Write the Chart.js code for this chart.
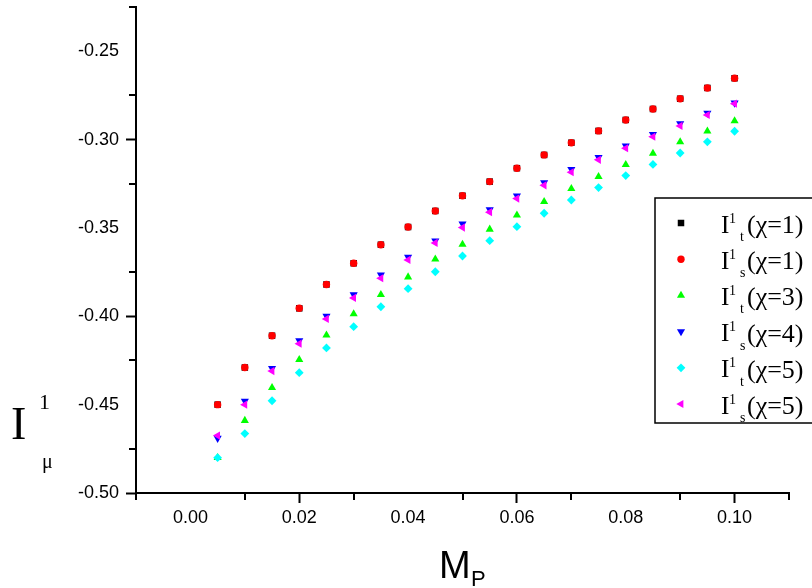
<!DOCTYPE html>
<html>
<head>
<meta charset="utf-8">
<style>
  body { margin: 0; background: #fff; }
  #chart-box { width: 812px; height: 588px; }
</style>
</head>
<body>
<div id="chart-box"><canvas id="myChart" width="812" height="588"></canvas></div>

<script src="https://cdn.jsdelivr.net/npm/chart.js"></script>
<script>
  // M_P values (x) shared by every series
  const mpValues = [0.005, 0.010, 0.015, 0.020, 0.025, 0.030, 0.035, 0.040, 0.045, 0.050,
                    0.055, 0.060, 0.065, 0.070, 0.075, 0.080, 0.085, 0.090, 0.095, 0.100];

  const itChi1 = [-0.450, -0.429, -0.411, -0.3955, -0.382, -0.370, -0.3595, -0.3495, -0.3404, -0.3318,
                  -0.3238, -0.3162, -0.3087, -0.3018, -0.2951, -0.2889, -0.2827, -0.2769, -0.2708, -0.2653];
  const isChi1 = [-0.450, -0.429, -0.411, -0.3955, -0.382, -0.370, -0.3595, -0.3495, -0.3404, -0.3318,
                  -0.3238, -0.3162, -0.3087, -0.3018, -0.2951, -0.2889, -0.2827, -0.2769, -0.2708, -0.2653];
  const itChi3 = [-0.480, -0.459, -0.4404, -0.4246, -0.4107, -0.3987, -0.3878, -0.3778, -0.3677, -0.3593,
                  -0.3508, -0.3428, -0.3351, -0.3278, -0.3210, -0.3142, -0.3078, -0.3013, -0.2953, -0.2895];
  const isChi4 = [-0.469, -0.448, -0.4295, -0.4138, -0.3999, -0.3878, -0.3765, -0.3665, -0.3573, -0.3477,
                  -0.3397, -0.3318, -0.3243, -0.3169, -0.3101, -0.3035, -0.2971, -0.2910, -0.2850, -0.2793];
  const itChi5 = [-0.480, -0.4664, -0.4478, -0.4319, -0.4179, -0.4059, -0.3946, -0.3844, -0.3748, -0.3659,
                  -0.3572, -0.3493, -0.3417, -0.3342, -0.3272, -0.3204, -0.3141, -0.3076, -0.3013, -0.2953];
  const isChi5 = [-0.4675, -0.450, -0.431, -0.4155, -0.4015, -0.3896, -0.3785, -0.3681, -0.3585, -0.3498,
                  -0.3411, -0.3334, -0.3259, -0.3185, -0.3115, -0.3049, -0.2984, -0.2923, -0.2861, -0.2797];

  // legend text parts: I^1_<sub> (χ=<chi>)
  const legendSubs = ['t', 's', 't', 's', 't', 's'];
  const legendChi = ['1', '1', '3', '4', '5', '5'];

  // ticks (empty label = minor tick)
  const xTickValues = [-0.01, 0.00, 0.01, 0.02, 0.03, 0.04, 0.05, 0.06, 0.07, 0.08, 0.09, 0.10, 0.11];
  const xTickLabels = ['', '0.00', '', '0.02', '', '0.04', '', '0.06', '', '0.08', '', '0.10', ''];
  const yTickValues = [-0.500, -0.475, -0.450, -0.425, -0.400, -0.375, -0.350, -0.325, -0.300, -0.275, -0.250, -0.225];
  const yTickLabels = ['-0.50', '', '-0.45', '', '-0.40', '', '-0.35', '', '-0.30', '', '-0.25', ''];

  const series = [itChi1, isChi1, itChi3, isChi4, itChi5, isChi5];
  const colors = ['#000000', '#ff0000', '#00ff00', '#0000ff', '#00ffff', '#ff00ff'];
  const styles = ['rect', 'circle', 'triangle', 'triangle', 'rectRot', 'triangle'];
  const rotations = [0, 0, 0, 180, 0, -90];
  const radii = [4.6, 3.7, 4.7, 4.7, 4.4, 4.7];

  Chart.defaults.font.family = '"Liberation Sans", Arial, sans-serif';
  Chart.defaults.color = '#000';

  function marker(c, style, rot, r, x, y) {
    const rad = rot * Math.PI / 180;
    c.beginPath();
    if (style === 'circle') {
      c.arc(x, y, r, 0, Math.PI * 2);
    } else if (style === 'rect') {
      const s = r * Math.SQRT1_2;
      c.rect(x - s, y - s, 2 * s, 2 * s);
    } else if (style === 'rectRot') {
      c.moveTo(x, y - r); c.lineTo(x + r, y); c.lineTo(x, y + r); c.lineTo(x - r, y);
    } else {
      for (let k = 0; k < 3; k++) {
        const a = rad + k * 2 * Math.PI / 3;
        const px = x + Math.sin(a) * r, py = y - Math.cos(a) * r;
        if (k === 0) c.moveTo(px, py); else c.lineTo(px, py);
      }
    }
    c.closePath();
    c.fill();
  }

  const decorations = {
    id: 'decorations',
    afterDraw(chart) {
      const c = chart.ctx;
      const xs = chart.scales.x, ys = chart.scales.y;
      c.save();

      // minor ticks
      c.strokeStyle = '#000';
      c.lineWidth = 2;
      xTickValues.forEach((v, i) => {
        if (xTickLabels[i]) return;
        const px = Math.round(xs.getPixelForValue(v));
        c.beginPath(); c.moveTo(px, xs.top); c.lineTo(px, xs.top + 7); c.stroke();
      });
      yTickValues.forEach((v, i) => {
        if (yTickLabels[i]) return;
        const py = Math.round(ys.getPixelForValue(v));
        c.beginPath(); c.moveTo(ys.right, py); c.lineTo(ys.right - 7, py); c.stroke();
      });

      // legend
      c.lineWidth = 1.5;
      c.strokeRect(655, 198, 200, 225);
      c.textAlign = 'left';
      c.textBaseline = 'alphabetic';
      chart.data.datasets.forEach((ds, i) => {
        const y = 223 + i * 36.2;
        c.fillStyle = colors[i];
        marker(c, styles[i], rotations[i], radii[i], 681, y);
        c.fillStyle = '#000';
        c.font = '25px "Liberation Serif", serif';
        c.fillText('I', 721, y + 9.5);
        c.font = '14px "Liberation Serif", serif';
        c.fillText('1', 729, y - 0.5);
        c.fillText(legendSubs[i], 740, y + 18);
        c.font = '26px "Liberation Serif", serif';
        c.fillText('(\u03c7=' + legendChi[i] + ')', 747, y + 10);
      });

      // y title  I^1_mu
      c.fillStyle = '#000';
      c.font = '46px "Liberation Serif", serif';
      c.fillText('I', 11, 439);
      c.font = '22px "Liberation Serif", serif';
      c.fillText('1', 39, 409);
      c.font = '20px "Liberation Serif", serif';
      c.fillText('\u03bc', 42, 468);

      // x title  M_P
      c.font = '38px "Liberation Sans", Arial, sans-serif';
      c.fillText('M', 439, 578);
      c.font = '22px "Liberation Sans", Arial, sans-serif';
      c.fillText('P', 471, 586);

      c.restore();
    }
  };

  const ctx = document.getElementById('myChart');
  const chart = new Chart(ctx, {
    type: 'scatter',
    data: {
      datasets: series.map((vals, i) => ({
        label: 'I1' + legendSubs[i] + ' (\u03c7=' + legendChi[i] + ')',
        data: vals.map((v, j) => ({ x: mpValues[j], y: v })),
        backgroundColor: colors[i],
        borderColor: colors[i],
        borderWidth: 0,
        pointStyle: styles[i],
        rotation: rotations[i],
        pointRadius: radii[i],
        pointHoverRadius: radii[i],
        order: 5 - i
      }))
    },
    options: {
      responsive: false,
      animation: false,
      layout: { padding: { top: 7, right: 23, left: 0, bottom: 0 } },
      plugins: {
        legend: { display: false },
        tooltip: { enabled: false }
      },
      scales: {
        x: {
          type: 'linear',
          min: -0.01,
          max: 0.11,
          afterBuildTicks: s => { s.ticks = xTickValues.map(v => ({ value: v })); },
          afterFit: s => { s.height = 95; s.paddingLeft = 0; s.paddingRight = 0; },
          ticks: {
            autoSkip: false,
            maxRotation: 0,
            padding: 4,
            font: { size: 18 },
            callback: (v, i) => xTickLabels[i] || null
          },
          grid: {
            drawOnChartArea: false,
            tickLength: 10,
            tickWidth: 2,
            tickColor: c => xTickLabels[c.index] ? '#000' : 'rgba(0,0,0,0)'
          },
          border: { color: '#000', width: 2 }
        },
        y: {
          type: 'linear',
          min: -0.5,
          max: -0.225,
          afterBuildTicks: s => { s.ticks = yTickValues.map(v => ({ value: v })); },
          afterFit: s => { s.width = 136; s.paddingTop = 0; s.paddingBottom = 0; },
          ticks: {
            autoSkip: false,
            padding: 7,
            font: { size: 18 },
            callback: (v, i) => yTickLabels[i] || null
          },
          grid: {
            drawOnChartArea: false,
            tickLength: 10,
            tickWidth: 2,
            tickColor: c => yTickLabels[c.index] ? '#000' : 'rgba(0,0,0,0)'
          },
          border: { color: '#000', width: 2 }
        }
      }
    },
    plugins: [decorations]
  });
</script>
</body>
</html>
